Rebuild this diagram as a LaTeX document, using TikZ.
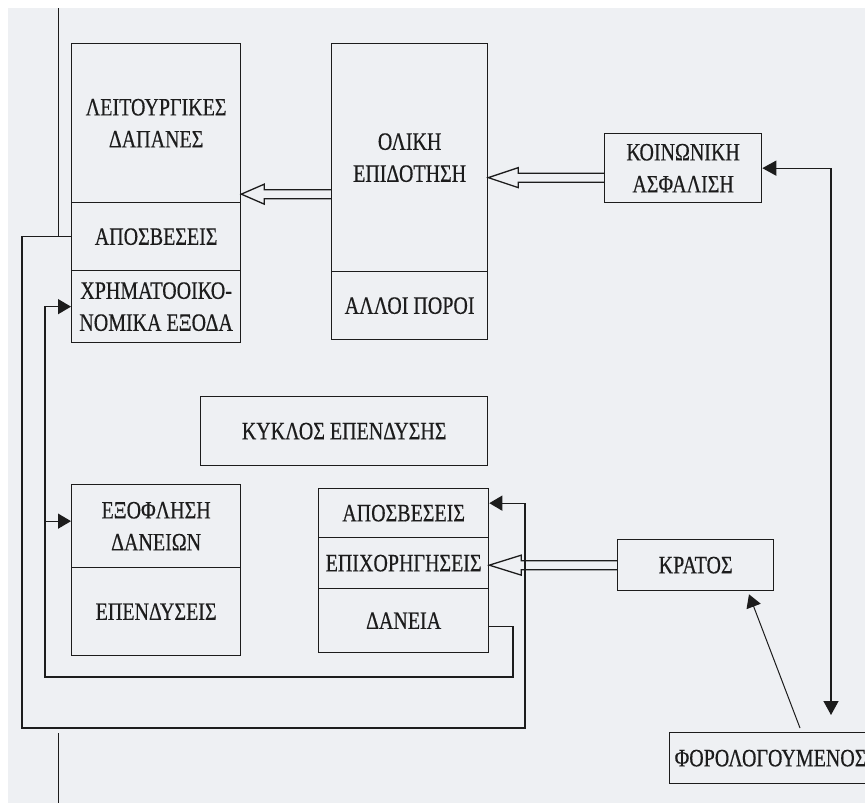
\documentclass[tikz,border=0pt]{standalone}
\usepackage{fontspec}
\newfontfamily\grfont[FakeStretch=0.80,FakeBold=0.4]{Liberation Serif}
\usetikzlibrary{arrows.meta,calc}
\definecolor{inkc}{RGB}{28,28,28}
\definecolor{paper}{RGB}{238,240,243}

% outlined (hollow) arrow pointing left: #1 tail, #2 point on the tip's x, #3 head length
\newcommand\hollowarrow[3]{%
  \draw[hollow] let \p1=(#1), \p2=(#2) in
    (\x1,\y1+4.5pt) -- (\x2+#3,\y1+4.5pt) -- (\x2+#3,\y1+10pt) -- (\x2,\y1)
    -- (\x2+#3,\y1-10pt) -- (\x2+#3,\y1-4.5pt) -- (\x1,\y1-4.5pt);}

\begin{document}
\begin{tikzpicture}[x=1pt,y=-1pt,
  blk/.style={draw=inkc, line width=1.3pt, inner sep=0pt, anchor=north west,
    align=center, text=inkc, font=\grfont\fontsize{25}{32}\selectfont},
  wire/.style={draw=inkc, line width=1.3pt},
  hollow/.style={draw=inkc, line width=1.3pt, line join=miter},
  headend/.style={-{Triangle[length=13pt,width=15pt]}},
  bothends/.style={{Triangle[length=14pt,width=15pt]}-{Triangle[length=14pt,width=15pt]}},
]
% paper
\fill[white] (0,0) rectangle (865,803);
\fill[paper] (8,8) rectangle (865,803);
\useasboundingbox (0,0) rectangle (865,803);
\clip (0,0) rectangle (865,803);

% margin rule
\draw[inkc, line width=0.9pt] (58,8) -- (58,237);
\draw[inkc, line width=0.9pt] (58,733) -- (58,803);

% operating account
\node[blk, minimum width=169pt, minimum height=159pt] (A1) at (71,43) {ΛΕΙΤΟΥΡΓΙΚΕΣ\\ΔΑΠΑΝΕΣ};
\node[blk, minimum width=169pt, minimum height=68pt] (A2) at (71,202) {ΑΠΟΣΒΕΣΕΙΣ};
\node[blk, minimum width=169pt, minimum height=72pt] (A3) at (71,270) {ΧΡΗΜΑΤΟΟΙΚΟ-\\ΝΟΜΙΚΑ ΕΞΟΔΑ};

% revenue
\node[blk, minimum width=156pt, minimum height=228pt] (B1) at (331,43) {ΟΛΙΚΗ\\ΕΠΙΔΟΤΗΣΗ};
\node[blk, minimum width=156pt, minimum height=68pt] (B2) at (331,271) {ΑΛΛΟΙ ΠΟΡΟΙ};

\node[blk, minimum width=157pt, minimum height=69pt] (C) at (604,133) {ΚΟΙΝΩΝΙΚΗ\\ΑΣΦΑΛΙΣΗ};

% investment cycle
\node[blk, minimum width=287pt, minimum height=69pt] (K) at (200,396) {ΚΥΚΛΟΣ ΕΠΕΝΔΥΣΗΣ};

\node[blk, minimum width=169pt, minimum height=83pt] (E1) at (71,484) {ΕΞΟΦΛΗΣΗ\\ΔΑΝΕΙΩΝ};
\node[blk, minimum width=169pt, minimum height=88pt] (E2) at (71,567) {ΕΠΕΝΔΥΣΕΙΣ};

\node[blk, minimum width=170pt, minimum height=49pt] (D1) at (318,488) {ΑΠΟΣΒΕΣΕΙΣ};
\node[blk, minimum width=170pt, minimum height=51pt] (D2) at (318,537) {ΕΠΙΧΟΡΗΓΗΣΕΙΣ};
\node[blk, minimum width=170pt, minimum height=64pt] (D3) at (318,588) {ΔΑΝΕΙΑ};

\node[blk, minimum width=156pt, minimum height=51pt] (KR) at (617,539) {ΚΡΑΤΟΣ};

\node[blk, minimum height=51pt, inner xsep=5pt, text width=230pt, align=left] (F) at (669,732) {ΦΟΡΟΛΟΓΟΥΜΕΝΟΣ};

% subsidy flows
\coordinate (h1) at ($(B1.west)+(0,36.5)$);
\hollowarrow{h1}{A1.east |- h1}{23pt}
\coordinate (h2) at ($(C.west)+(0,9.5)$);
\hollowarrow{h2}{B1.east |- h2}{30pt}
\hollowarrow{KR.west}{D2.east |- KR.west}{32pt}

% depreciation loop
\draw[wire, headend] (A2.west) -| (22,728) -- (525,728) |- ($(D1.east)+(0,-10)$);

% loan loop
\draw[wire, headend] ($(D3.east)+(0,6)$) -| (513,677) -- (45,677) |- (A3.west);
\draw[wire, headend] ($(E1.west)+(-26,-5)$) -- ($(E1.west)+(0,-5)$);

% taxpayer links
\draw[wire, bothends] (C.east) -| ($(F.north west)+(162,-17)$);
\draw[wire, line width=1pt, headend] ($(F.north west)+(131,-4)$) -- ($(KR.south west)+(132,3)$);
\end{tikzpicture}
\end{document}
